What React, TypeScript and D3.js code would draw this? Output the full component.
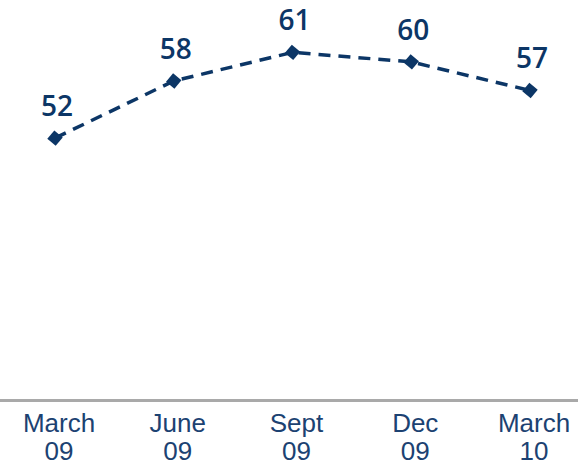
import React from "react";
import * as d3 from "d3";

const categories: string[][] = [
  ["March", "09"],
  ["June", "09"],
  ["Sept", "09"],
  ["Dec", "09"],
  ["March", "10"],
];
const values: number[] = [52, 58, 61, 60, 57];

const WIDTH = 578;
const HEIGHT = 466;
const NAVY = "#0c3666";
const AXIS_TEXT = "#1c4272";

export default function App() {
  const keys = categories.map((c) => c.join(" "));
  const x = d3.scalePoint<string>().domain(keys).range([55, 530]);
  const y = d3.scaleLinear().domain([24.5, 66.5]).range([400, 0]);

  const line = d3
    .line<number>()
    .x((_, i) => x(keys[i]) as number)
    .y((v) => y(v));

  const marker = d3.symbol().type(d3.symbolSquare).size(120)() as string;

  return (
    <svg
      width={WIDTH}
      height={HEIGHT}
      style={{ position: "absolute", left: 0, top: 0 }}
      fontFamily="'Liberation Sans', Arial, sans-serif"
    >
      <rect width={WIDTH} height={HEIGHT} fill="#ffffff" />
      <path
        d={line(values) as string}
        fill="none"
        stroke={NAVY}
        strokeWidth={3.5}
        strokeDasharray="12 8"
      />
      {values.map((v, i) => {
        const cx = x(keys[i]) as number;
        const cy = y(v);
        return (
          <g key={keys[i]}>
            <path d={marker} transform={`translate(${cx},${cy}) rotate(40)`} fill={NAVY} />
            <text
              x={cx + 2}
              y={cy - 22}
              textAnchor="middle"
              fontSize={28}
              fontWeight={600}
              fontFamily="'Open Sans', sans-serif"
              fill={NAVY}
            >
              {v}
            </text>
          </g>
        );
      })}
      <line x1={0} x2={WIDTH} y1={400.5} y2={400.5} stroke="#a9a9a9" strokeWidth={3} />
      {categories.map((c, i) => {
        const cx = (x(keys[i]) as number) + 4;
        return (
          <g key={keys[i]} fill={AXIS_TEXT} fontSize={26}>
            <text x={cx} y={432} textAnchor="middle">
              {c[0]}
            </text>
            <text x={cx} y={460} textAnchor="middle">
              {c[1]}
            </text>
          </g>
        );
      })}
    </svg>
  );
}
